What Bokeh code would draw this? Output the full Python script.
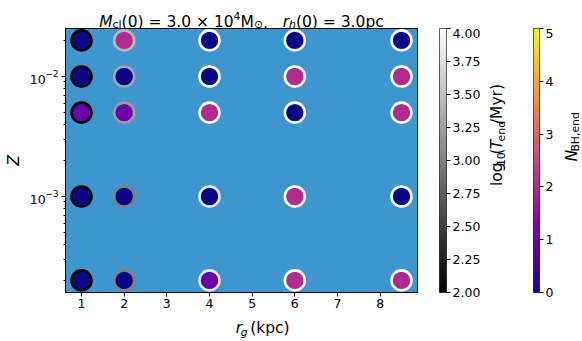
import math
import numpy as np
from bokeh.plotting import figure
from bokeh.layouts import row, column
from bokeh.models import (ColumnDataSource, Range1d, FixedTicker,
                          LinearColorMapper, PrintfTickFormatter)
from bokeh.core.properties import value
from bokeh.transform import linear_cmap
from bokeh.palettes import Plasma256, gray
from bokeh.embed import file_html
from bokeh.resources import INLINE

# ---------------- data ----------------
rg_kpc = [1, 2, 4, 6, 8.5]
metallicity = [0.02, 0.01, 0.005, 0.001, 0.0002]

# N_BH,end for each galactocentric radius (rows follow `metallicity`)
n_bh_rg1 = [0, 0, 1, 0, 0]
n_bh_rg2 = [2, 0, 1, 0, 0]
n_bh_rg4 = [0, 0, 2, 0, 1]
n_bh_rg6 = [0, 2, 0, 2, 2]
n_bh_rg85 = [0, 2, 2, 0, 2]

# log10(T_end / Myr) for each galactocentric radius
logT_rg1 = [2.00, 2.00, 2.00, 2.00, 2.00]
logT_rg2 = [3.45, 3.30, 3.22, 3.00, 3.00]
logT_rg4 = [4.00, 4.00, 4.00, 3.80, 3.80]
logT_rg6 = [3.90, 4.00, 4.00, 4.00, 4.00]
logT_rg85 = [4.00, 4.00, 4.00, 4.00, 4.00]

x_ticks = [1, 2, 3, 4, 5, 6, 7, 8]
z_major_ticks = [1e-3, 1e-2]
z_minor_ticks = [2e-4, 3e-4, 4e-4, 5e-4, 6e-4, 7e-4, 8e-4, 9e-4,
                 2e-3, 3e-3, 4e-3, 5e-3, 6e-3, 7e-3, 8e-3, 9e-3,
                 2e-2, 3e-2]
logT_ticks = [2.00, 2.25, 2.50, 2.75, 3.00, 3.25, 3.50, 3.75, 4.00]
nbh_ticks = [0, 1, 2, 3, 4, 5]
logT_low, logT_high = 2.0, 4.0
nbh_low, nbh_high = 0, 5

# ---------------- build source ----------------
n_cols = [n_bh_rg1, n_bh_rg2, n_bh_rg4, n_bh_rg6, n_bh_rg85]
t_cols = [logT_rg1, logT_rg2, logT_rg4, logT_rg6, logT_rg85]
xs, zs, ns, ts = [], [], [], []
for rg, ncol, tcol in zip(rg_kpc, n_cols, t_cols):
    for z, n, t in zip(metallicity, ncol, tcol):
        xs.append(rg); zs.append(z); ns.append(n); ts.append(t)
src = ColumnDataSource(dict(rg=xs, z=zs, nbh=ns, logT=ts))

GRAY = gray(256)
FONT = "DejaVu Sans"
S = 15.5          # label font px
TICK = "12.5px"
FH = 264          # frame height of main plot and colour bars
TITLE_H = 28
MAIN_W = 439
MAIN_H = FH + 21
XLAB_H = 341 - TITLE_H - MAIN_H
SIDE_H = MAIN_H + XLAB_H

# DejaVu Sans advance widths (em)
W = {'M': .863, 'c': .550, 'l': .278, '(': .390, ')': .390, ' ': .318, '=': .838,
     '.': .318, '×': .838, ',': .318, 'r': .411, 'h': .634, 'p': .635, 'g': .635,
     'k': .579, 'o': .612, 'T': .611, 'e': .615, 'n': .634, 'd': .635, '/': .337,
     'y': .592, 'N': .748, 'B': .686, 'H': .752, '⊙': .838}
for dch in "0123456789":
    W[dch] = .636


def tw(s, size):
    return sum(W.get(ch, .6) for ch in s) * size


def text_fig(w, h):
    f = figure(width=w, height=h, x_range=Range1d(0, w), y_range=Range1d(0, h),
               title=None, toolbar_location=None, output_backend="svg",
               x_axis_location=None, y_axis_location=None, min_border=0)
    f.outline_line_color = None
    f.background_fill_color = "white"
    f.border_fill_color = "white"
    for g in f.grid:
        g.visible = False
    return f


def add_pieces(fig, pieces, cx, cy, vertical=False, sub=4.0, sup=6.0):
    sizes = [S if k == 'n' else S * 0.7 for _, k, _ in pieces]
    total = sum(tw(t, sz) for (t, _, _), sz in zip(pieces, sizes))
    pos = (cy if vertical else cx) - total / 2
    for (t, k, style), sz in zip(pieces, sizes):
        shift = {'n': 0, 'sub': -sub, 'sup': sup}[k]
        lead = len(t) - len(t.lstrip(" "))
        start = pos + tw(" " * lead, sz)
        if vertical:
            px, py, ang = cx - shift, start, math.pi / 2
        else:
            px, py, ang = start, cy + shift, 0
        if t.strip():
            fig.text(x=[px], y=[py], text=[t.strip()], angle=ang,
                     text_font=value(FONT), text_font_size=value(f"{sz:.2f}px"),
                     text_font_style=value(style), text_color="black",
                     text_align="left", text_baseline="alphabetic")
        pos += tw(t, sz)


# ---------------- main plot ----------------
p = figure(width=MAIN_W, height=MAIN_H, y_axis_type="log", title=None,
           x_range=Range1d(0.625, 8.875), y_range=Range1d(10 ** -3.8, 10 ** -1.6),
           toolbar_location=None, output_backend="svg",
           min_border_left=65, min_border_right=22, min_border_top=0,
           min_border_bottom=MAIN_H - FH)
p.background_fill_color = "#3f96cf"
p.border_fill_color = "white"
p.outline_line_color = "black"
p.outline_line_width = 1
p.grid.visible = False

p.scatter(x="rg", y="z", source=src, marker="circle", size=20, line_width=2.6,
          fill_color=linear_cmap("nbh", Plasma256, nbh_low, nbh_high),
          line_color=linear_cmap("logT", GRAY, logT_low, logT_high))

for ax in (p.xaxis[0], p.yaxis[0]):
    ax.axis_line_color = "black"
    ax.major_tick_line_color = "black"
    ax.minor_tick_line_color = "black"
    ax.major_tick_out = 4
    ax.major_tick_in = 0
    ax.minor_tick_out = 2
    ax.minor_tick_in = 0
    ax.major_label_text_font = FONT
    ax.major_label_text_font_size = TICK
    ax.major_label_text_color = "black"
    ax.major_label_standoff = 3
p.xaxis.major_label_standoff = 2

p.xaxis.ticker = FixedTicker(ticks=x_ticks, minor_ticks=[])
p.yaxis.ticker = FixedTicker(ticks=z_major_ticks, minor_ticks=z_minor_ticks)
p.yaxis.axis_label = "Z"
p.yaxis.axis_label_text_font = FONT
p.yaxis.axis_label_text_font_size = f"{S}px"
p.yaxis.axis_label_text_font_style = "italic"
p.yaxis.axis_label_text_color = "black"
p.yaxis.axis_label_standoff = 4

# x label: r_g (kpc)
xlab = text_fig(MAIN_W, XLAB_H)
add_pieces(xlab, [("r", 'n', 'italic'), ("g", 'sub', 'italic'), (" (kpc)", 'n', 'normal')],
           65 + 176, 13.5)


# ---------------- colour bars ----------------
def colorbar_fig(low, high, palette, ticks, fmt, left, frame_w, right):
    f = figure(width=left + frame_w + right, height=SIDE_H, title=None,
               x_range=Range1d(0, 1), y_range=Range1d(low, high),
               y_axis_location="right", x_axis_location=None,
               toolbar_location=None, output_backend="svg",
               min_border_left=left, min_border_right=right,
               min_border_top=0, min_border_bottom=SIDE_H - FH)
    f.grid.visible = False
    f.outline_line_color = "#333333"
    f.background_fill_color = "white"
    f.border_fill_color = "white"
    mapper = LinearColorMapper(palette=palette, low=low, high=high)
    f.image(image=[np.linspace(low, high, 256).reshape(256, 1)], x=0, y=low,
            dw=1, dh=high - low, color_mapper=mapper)
    ax = f.yaxis[0]
    ax.ticker = FixedTicker(ticks=ticks, minor_ticks=[])
    ax.formatter = PrintfTickFormatter(format=fmt)
    ax.axis_line_color = None
    ax.major_tick_line_color = "black"
    ax.major_tick_out = 4
    ax.major_tick_in = 0
    ax.major_label_standoff = 2
    ax.major_label_text_font = FONT
    ax.major_label_text_font_size = TICK
    ax.major_label_text_color = "black"
    return f


# frame centre measured from the bottom of a side figure
FRAME_MID = SIDE_H - FH / 2

cb_t = colorbar_fig(logT_low, logT_high, GRAY, logT_ticks, "%.2f", 0, 11, 33)
lab_t = text_fig(27, SIDE_H)
add_pieces(lab_t, [("log", 'n', 'normal'), ("10", 'sub', 'normal'), ("(", 'n', 'normal'),
                   ("T", 'n', 'italic'), ("end", 'sub', 'normal'), ("/Myr)", 'n', 'normal')],
           13.5, FRAME_MID + 2, vertical=True)

cb_n = colorbar_fig(nbh_low, nbh_high, Plasma256, nbh_ticks, "%d", 23, 9, 14)
lab_n = text_fig(26, SIDE_H)
add_pieces(lab_n, [("N", 'n', 'italic'), ("BH,end", 'sub', 'normal')],
           15, FRAME_MID, vertical=True)

# ---------------- title ----------------
title = text_fig(582, TITLE_H)
add_pieces(title, [("M", 'n', 'italic'), ("cl", 'sub', 'normal'),
                   ("(0) = 3.0 × 10", 'n', 'normal'), ("4", 'sup', 'normal'),
                   ("M", 'n', 'normal'), ("⊙", 'sub', 'normal'),
                   (",   ", 'n', 'normal'), ("r", 'n', 'italic'), ("h", 'sub', 'italic'),
                   ("(0) = 3.0pc", 'n', 'normal')], 65 + 176, 7, sub=3.0, sup=6.0)

layout = column(title, row(column(p, xlab), cb_t, lab_t, cb_n, lab_n))
open("out.html", "w").write(file_html(layout, INLINE))
